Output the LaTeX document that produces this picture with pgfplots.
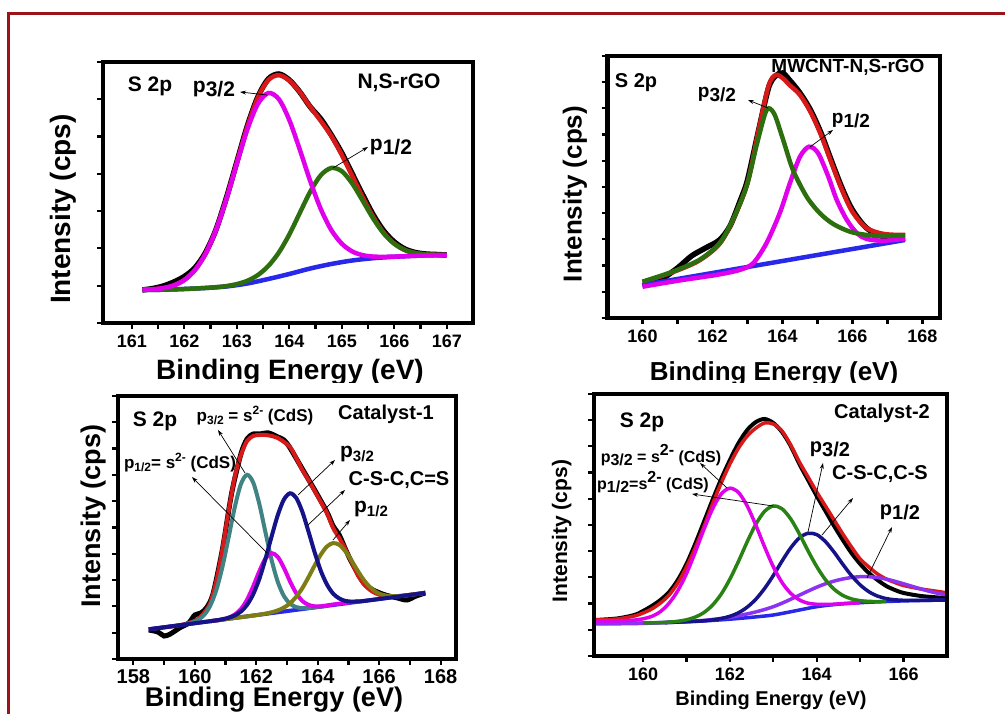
\documentclass[border=0pt]{standalone}
\usepackage{fontspec}
\setmainfont{Liberation Sans}
\usepackage{pgfplots}
\pgfplotsset{compat=1.18}
\usetikzlibrary{arrows.meta}
\definecolor{cred}{RGB}{215,25,25}
\definecolor{cblue}{RGB}{40,40,235}
\definecolor{cmag}{RGB}{225,0,235}
\definecolor{cgreen}{RGB}{45,110,15}
\definecolor{cteal}{RGB}{65,130,130}
\definecolor{cnavy}{RGB}{22,18,135}
\definecolor{colive}{RGB}{125,125,20}
\definecolor{cpurple}{RGB}{140,50,240}
\definecolor{cgreenb}{RGB}{40,130,20}
\definecolor{borderred}{RGB}{155,20,25}
\newcommand{\fs}[1]{\fontsize{#1}{#1}\selectfont}
\pgfplotsset{panel/.style={scale only axis, anchor=south west, axis on top,
  axis line style={line width=4.5pt}, tick align=outside, tick pos=left,
  major tick length=6pt, minor tick length=6pt, every tick/.style={black, line width=2.2pt},
  yticklabels={}, minor x tick num=1, minor y tick num=1,
  tick label style={font=\bfseries\fs{18}}, xticklabel style={yshift=-2pt},
  /pgf/number format/assume math mode=true,
  every axis plot/.append style={smooth, no marks}}}
\tikzset{arr/.style={black, line width=0.7pt, -{Stealth[length=6pt,width=4pt]}}}
\begin{document}
\begin{tikzpicture}[x=1pt,y=1pt]
\path[use as bounding box] (0,0) rectangle (1005,714);
% ---------------- Panel 1 ----------------
\begin{axis}[panel, at={(103pt,391pt)}, width=370pt, height=261pt,
  xmin=160.45, xmax=167.5, ymin=0, ymax=261, xtick={161,162,163,164,165,166,167},
  ytick={0,37.3,74.6,111.9,149.1,186.4,223.7,261}]
\addplot[black, line width=5.5pt] coordinates {(161.2,33) (161.4,34.5) (161.6,37) (161.8,41) (162.0,46.5) (162.2,55) (162.4,70) (162.6,93) (162.8,125) (163.0,161) (163.2,197) (163.4,226) (163.6,244) (163.8,249) (164.0,243) (164.2,231) (164.4,216) (164.6,204) (164.8,188) (165.0,170) (165.2,149) (165.4,128) (165.6,108) (165.8,92) (166.0,81) (166.2,74) (166.4,70.5) (166.6,69) (166.8,68.5) (167.0,68)};
\addplot[cred, line width=4.5pt] coordinates {(161.2,33.2) (161.4,33.7) (161.6,34.9) (161.8,37.6) (162.0,43.0) (162.2,52.8) (162.4,68.9) (162.6,92.7) (162.8,124.1) (163.0,160.4) (163.2,196.2) (163.4,225.3) (163.6,243.0) (163.8,247.8) (164.0,242.5) (164.2,231.0) (164.4,216) (164.6,202) (164.8,187) (165.0,168) (165.2,147) (165.4,125.5) (165.6,105.9) (165.8,90.1) (166.0,79.4) (166.2,73.0) (166.4,69.9) (166.6,68.6) (166.8,68.2) (167.0,68.1)};
\addplot[cblue, line width=4.5pt] coordinates {(161.2,33) (161.6,33.3) (162.0,34) (162.4,35) (162.8,36.5) (163.2,39.5) (163.6,44) (164.0,49) (164.4,54.5) (164.8,59) (165.2,62.5) (165.6,64.8) (166.0,66.2) (166.4,67.2) (166.8,67.8) (167.0,68)};
\addplot[cgreen, line width=4.5pt] coordinates {(161.2,33) (161.6,33.3) (162.0,34) (162.4,35) (162.6,35.8) (162.8,36.9) (163.0,38.9) (163.2,42.2) (163.4,47.9) (163.6,57.0) (163.8,70.4) (164.0,88.5) (164.2,110.1) (164.4,131.4) (164.6,147.8) (164.8,155) (165.0,151.8) (165.2,139.4) (165.4,122.1) (165.6,104.3) (165.8,89.5) (166.0,79.2) (166.2,73.0) (166.4,69.9) (166.6,68.6) (166.8,68.2) (167.0,68.1)};
\addplot[cmag, line width=4.5pt] coordinates {(161.2,33.2) (161.4,33.7) (161.6,34.9) (161.8,37.6) (162.0,43.0) (162.2,52.8) (162.4,68.9) (162.6,92.6) (162.8,123.7) (163.0,159.3) (163.2,193.5) (163.4,219.0) (163.6,230.0) (163.8,223.9) (164.0,203.0) (164.2,173.3) (164.4,141.7) (164.6,113.9) (164.8,92.9) (165.0,79.3) (165.2,71.5) (165.4,67.8) (165.6,66.4) (165.8,66.2) (166.0,66.4) (166.2,66.7) (166.4,67.2) (166.6,67.5) (166.8,67.8) (167.0,68)};
\end{axis}
% ---------------- Panel 2 ----------------
\begin{axis}[panel, at={(607.5pt,396pt)}, width=332.5pt, height=262pt,
  xmin=159, xmax=168.5, ymin=0, ymax=262, xtick={160,162,164,166,168},
  ytick={0,52.4,104.8,157.2,209.6,262}]
\addplot[black, line width=5.5pt] coordinates {(160.0,32) (160.5,38) (161.0,50) (161.4,62) (161.8,70) (162.2,78) (162.5,92) (162.8,118) (163.0,138) (163.3,185) (163.6,230) (163.8,242) (164.0,245) (164.2,238) (164.5,225) (164.8,208) (165.1,185) (165.4,157) (165.7,130) (166.0,108) (166.4,90) (166.9,81) (167.5,80)};
\addplot[cred, line width=4.5pt] coordinates {(160.0,36) (160.8,45) (161.6,57) (162.2,74) (162.6,99) (163.0,135) (163.3,185) (163.6,232) (163.8,243) (164.0,240) (164.2,233) (164.5,223) (164.8,206) (165.1,183) (165.4,155) (165.7,128) (166.0,106) (166.4,90) (166.9,84) (167.5,83)};
\addplot[cblue, line width=4.5pt] coordinates {(160,33) (163.75,55.5) (167.5,78)};
\addplot[cmag, line width=4.5pt] coordinates {(160.0,31.3) (161.14,38) (162.10,43) (162.77,48) (163.16,54.7) (163.54,74.7) (163.92,104.7) (164.21,134.7) (164.50,161.3) (164.76,171.3) (165.02,164.7) (165.31,141.3) (165.55,118) (165.84,98) (166.13,84.7) (166.41,79) (166.89,77.3) (167.51,79.3)};
\addplot[cgreen, line width=4.5pt] coordinates {(160.0,36.3) (160.86,46.3) (161.62,58) (162.20,74.7) (162.58,98) (162.97,131.3) (163.25,171.3) (163.49,203) (163.61,209.7) (163.78,203) (164.02,178) (164.30,148) (164.69,121.3) (165.07,104.7) (165.45,94) (165.93,86.3) (166.41,83) (166.89,82) (167.51,82.7)};
\end{axis}
% labels of top panels
\node[anchor=base, font=\bfseries\fs{28}] at (290,334.5) {Binding Energy (eV)};
\node[rotate=90, anchor=base, font=\bfseries\fs{28}] at (71,505) {Intensity (cps)};
\node[font=\bfseries\fs{21}] at (150,628) {S 2p};
\node[font=\bfseries\fs{21}] at (214,625) {p\raisebox{-4pt}{3/2}};
\node[font=\bfseries\fs{21}] at (391,567) {p\raisebox{-4pt}{1/2}};
\node[font=\bfseries\fs{21}] at (399,631) {N,S-rGO};
\draw[arr] (267,619) -- (240,622);
\draw[arr] (333,546) -- (368,567);
\node[anchor=base, font=\bfseries\fs{26}] at (774,333.5) {Binding Energy (eV)};
\node[rotate=90, anchor=base, font=\bfseries\fs{26}] at (581.5,520) {Intensity (cps)};
\node[font=\bfseries\fs{20}] at (636,631) {S 2p};
\node[font=\bfseries\fs{19}] at (848,647) {MWCNT-N,S-rGO};
\node[font=\bfseries\fs{19}] at (717,619) {p\raisebox{-4pt}{3/2}};
\node[font=\bfseries\fs{19}] at (851,593) {p\raisebox{-4pt}{1/2}};
\draw[arr] (768,606) -- (748,614);
\draw[arr] (810,567) -- (833,584);
% white cover (lower images overlap the labels)
\fill[white] (12,0) rectangle (1005,330.5);
% ---------------- Panel 3 ----------------
\begin{axis}[panel, at={(118pt,55pt)}, width=338pt, height=263pt,
  xmin=157.5, xmax=168.5, ymin=0, ymax=263, xtick={158,160,162,164,166,168},
  ytick={0,52.6,105.2,157.8,210.4,263}, tick label style={font=\bfseries\fs{20}}, xticklabel style={yshift=1pt}]
\addplot[black, line width=5pt] coordinates {(158.5,29) (158.8,27) (159.0,23) (159.2,25) (159.5,31) (159.8,36) (160.0,44) (160.2,46) (160.4,52) (160.6,66) (160.9,110) (161.2,166) (161.5,205) (161.7,220) (161.9,225) (162.1,225) (162.4,226) (162.7,222) (162.9,219) (163.1,211) (163.5,190) (163.9,169) (164.3,147) (164.5,133) (164.7,124) (164.9,110) (165.1,97) (165.5,76) (165.8,69) (166.2,64) (166.6,61) (166.9,59) (167.2,63) (167.5,66)};
\addplot[cred, line width=4pt] coordinates {(158.5,29.7) (159.5,33.7) (159.9,37) (160.1,40) (160.3,46) (160.5,56) (160.7,78) (160.9,110) (161.1,148) (161.3,182) (161.5,204) (161.7,218) (161.9,223) (162.1,224) (162.3,224) (162.5,223) (162.7,221) (162.9,217) (163.1,212) (163.3,201) (163.5,189) (163.7,179) (163.9,168) (164.1,157) (164.3,146) (164.5,131) (164.7,121) (164.9,110) (165.1,97) (165.3,84) (165.5,75) (165.7,69) (165.9,65.5) (166.1,63.5) (166.5,62.5) (167.5,66.1)};
\addplot[cblue, line width=4pt] coordinates {(158.5,29.7) (163,47.9) (167.5,66.1)};
\addplot[cteal, line width=4pt] coordinates {(159.7,34.8) (159.9,36.4) (160.1,39.0) (160.3,43.9) (160.5,53.2) (160.7,69.0) (160.9,92.4) (161.1,121.6) (161.3,151.7) (161.5,174.9) (161.7,184.2) (161.9,176.5) (162.1,154.9) (162.3,126.5) (162.5,98.9) (162.7,77.1) (162.9,62.9) (163.1,55.2) (163.3,51.9) (163.5,50.9) (163.7,51.0) (164.0,52.1) (164.3,53.1)};
\addplot[cmag, line width=4pt] coordinates {(160.5,37.8) (160.9,39.4) (161.1,41.4) (161.3,44.4) (161.5,49.9) (161.7,59.3) (161.9,72.6) (162.1,87.8) (162.3,100.5) (162.5,105.9) (162.7,102.1) (162.9,91.1) (163.1,77.5) (163.3,65.8) (163.5,58.0) (163.7,54.1) (163.9,52.7) (164.1,52.7) (164.5,54.5) (165.0,56.5) (165.3,57.6)};
\addplot[colive, line width=4pt] coordinates {(160.5,37.8) (161.5,41.8) (162.1,44.3) (162.3,45.4) (162.5,46.7) (162.7,48.6) (162.9,51.4) (163.1,55.7) (163.3,62.2) (163.5,70.9) (163.7,81.8) (163.9,93.5) (164.1,104.4) (164.3,112.5) (164.5,115.9) (164.7,114.2) (164.9,107.7) (165.1,98.4) (165.3,88.3) (165.5,79.0) (165.7,71.9) (165.9,67.0) (166.1,64.3) (166.3,63.1) (166.5,62.8) (166.7,63.1) (166.9,63.7) (167.5,66.1)};
\addplot[cnavy, line width=4pt] coordinates {(158.5,29.7) (159.5,33.7) (160.1,36.2) (160.7,38.6) (160.9,39.8) (161.1,41.2) (161.3,43.5) (161.5,47.5) (161.7,54.1) (161.9,64.8) (162.1,80.1) (162.3,100.2) (162.5,122.6) (162.7,143.9) (162.9,159.5) (163.1,165.7) (163.3,161.1) (163.5,147.1) (163.7,127.4) (163.9,106.6) (164.1,88.2) (164.3,74.5) (164.5,65.4) (164.7,60.5) (164.9,58.1) (165.1,57.4) (165.3,57.6) (165.5,58.0) (166.5,62.0) (167.5,66.1)};
\end{axis}
% ---------------- Panel 4 ----------------
\begin{axis}[panel, at={(594pt,58pt)}, width=353pt, height=262pt,
  xmin=158.87, xmax=167.0, ymin=0, ymax=262, xtick={160,162,164,166},
  ytick={0,52.4,104.8,157.2,209.6,262}]
\addplot[black, line width=4pt] coordinates {(158.9,36) (159.4,37.5) (159.8,41) (160.0,45) (160.2,50) (160.4,56) (160.6,64) (160.8,76) (161.0,92) (161.2,112) (161.4,134) (161.6,156) (161.8,177) (162.0,196) (162.2,213) (162.4,226) (162.6,234) (162.8,237) (163.0,233) (163.2,224) (163.4,210) (163.6,192) (163.8,176) (164.0,160) (164.2,145) (164.4,130) (164.6,116) (164.8,103) (165.0,92) (165.2,83) (165.4,76) (165.6,70) (165.8,66) (166.0,63) (166.4,60) (166.8,58.5) (167.0,58)};
\addplot[cred, line width=3.5pt] coordinates {(158.9,36) (159.4,37) (159.8,40) (160.0,43) (160.2,47) (160.4,53) (160.6,61) (160.8,73) (161.0,89) (161.2,108) (161.4,129) (161.6,152) (161.8,173) (162.0,192) (162.2,208) (162.4,220) (162.6,228) (162.8,233) (163.0,232) (163.2,225) (163.4,211) (163.6,194) (163.8,179) (164.0,164) (164.2,150) (164.4,136) (164.6,122) (164.8,109) (165.0,97) (165.2,89) (165.4,82) (165.6,77) (165.8,73.5) (166.0,70.5) (166.4,67) (166.8,64.5) (167.0,63)};
\addplot[cblue, line width=3.5pt] coordinates {(158.9,32.7) (159.5,32.8) (160.0,33.0) (160.5,33.4) (161.0,34.2) (161.5,35.3) (162.0,36.8) (162.5,38.7) (163.0,41.0) (163.5,45.1) (164.0,49.3) (164.5,51.8) (165.0,53.3) (165.5,54.3) (166.0,55.1) (166.5,55.6) (167.0,56.0)};
\addplot[cpurple, line width=3.5pt] coordinates {(158.9,32.0) (160.0,32.6) (161.0,34.5) (161.2,35.0) (161.4,35.6) (161.6,36.5) (161.8,37.5) (162.0,38.8) (162.2,40.3) (162.4,42.1) (162.6,44.1) (162.8,46.5) (163.0,49.3) (163.2,52.8) (163.4,56.7) (163.6,60.8) (163.8,64.9) (164.0,68.8) (164.2,72.2) (164.4,74.9) (164.6,77.0) (164.8,78.5) (165.0,79.3) (165.2,79.3) (165.4,78.4) (165.6,76.9) (165.8,74.7) (166.0,72.2) (166.2,69.6) (166.4,67.0) (166.6,64.6) (166.8,62.6) (167.0,60.9)};
\addplot[cnavy, line width=3.5pt] coordinates {(160.5,33.4) (161.2,34.7) (161.4,35.2) (161.6,36.1) (161.8,37.5) (162.0,39.7) (162.2,43.3) (162.4,48.9) (162.6,56.9) (162.8,67.6) (163.0,80.5) (163.2,94.9) (163.4,108.1) (163.6,118.1) (163.8,122.7) (164.0,121.4) (164.2,114.4) (164.4,103.8) (164.6,91.7) (164.8,80.4) (165.0,71.1) (165.2,64.3) (165.4,59.9) (165.6,57.4) (165.8,56.2) (166.0,55.7) (166.2,55.5) (166.4,55.6) (167.0,56)};
\addplot[cgreenb, line width=3.5pt] coordinates {(160.0,33.0) (160.4,33.4) (160.6,33.8) (160.8,34.7) (161.0,36.2) (161.2,38.9) (161.4,43.4) (161.6,50.9) (161.8,61.9) (162.0,76.9) (162.2,94.9) (162.4,114.4) (162.6,132.0) (162.8,144.7) (163.0,150) (163.2,147.2) (163.4,137.1) (163.6,122.1) (163.8,105.1) (164.0,89.4) (164.2,76.3) (164.4,66.8) (164.6,60.6) (164.8,57.1) (165.0,55.3) (165.2,54.6) (165.4,54.4) (165.6,54.6)};
\addplot[cmag, line width=3.5pt] coordinates {(158.9,35) (159.4,35.2) (159.8,35.9) (160.0,37.2) (160.2,39.6) (160.4,44.4) (160.6,52.8) (160.8,65.3) (161.0,82.4) (161.2,103.6) (161.4,126.4) (161.6,147.1) (161.8,162.0) (162.0,167.8) (162.2,163.4) (162.4,149.9) (162.6,130.5) (162.8,109.0) (163.0,89.2) (163.2,73.5) (163.4,62.7) (163.6,56.1) (163.8,52.8) (164.0,51.7) (164.2,51.5) (164.4,51.8) (164.6,52.4) (165.0,53.3)};
\end{axis}
% labels of bottom panels
\node[anchor=base, font=\bfseries\fs{27}] at (274,7) {Binding Energy (eV)};
\node[rotate=90, anchor=base, font=\bfseries\fs{27}] at (100.5,198) {Intensity (cps)};
\node[font=\bfseries\fs{21}] at (155,293) {S 2p};
\node[font=\bfseries\fs{20}] at (386,300) {Catalyst-1};
\node[font=\bfseries\fs{17}] at (255,298) {p\raisebox{-3pt}{\fs{12}3/2} = s\raisebox{7pt}{\fs{12}2-} (CdS)};
\node[font=\bfseries\fs{17}] at (180,251) {p\raisebox{-3pt}{\fs{12}1/2}= s\raisebox{7pt}{\fs{12}2-} (CdS)};
\node[font=\bfseries\fs{21}] at (357,260) {p\raisebox{-4pt}{\fs{15}3/2}};
\node[font=\bfseries\fs{20}] at (399,234) {C-S-C,C=S};
\node[font=\bfseries\fs{21}] at (371,205) {p\raisebox{-4pt}{\fs{15}1/2}};
\draw[arr] (245,241) -- (218,284);
\draw[arr] (267,161) -- (192,237);
\draw[arr] (298,219) -- (335,254);
\draw[arr] (308,189) -- (345,224);
\draw[arr] (333,174) -- (350,194);
\node[anchor=base, font=\bfseries\fs{20}] at (771,8) {Binding Energy (eV)};
\node[rotate=90, anchor=base, font=\bfseries\fs{21}] at (567,183) {Intensity (cps)};
\node[font=\bfseries\fs{21}] at (642,292) {S 2p};
\node[font=\bfseries\fs{20}] at (882,301) {Catalyst-2};
\node[font=\bfseries\fs{16}] at (661,259) {p\raisebox{-3pt}{3/2} = s\raisebox{7pt}{2-} (CdS)};
\node[font=\bfseries\fs{16}] at (653,232) {p\raisebox{-3pt}{1/2}=s\raisebox{7pt}{2-} (CdS)};
\node[font=\bfseries\fs{20}] at (830,265) {p\raisebox{-4pt}{3/2}};
\node[font=\bfseries\fs{20}] at (880,240) {C-S-C,C-S};
\node[font=\bfseries\fs{20}] at (900,202) {p\raisebox{-4pt}{1/2}};
\draw[arr] (727,226) -- (700,251);
\draw[arr] (773,208) -- (692,220);
\draw[arr] (808,182) -- (823,251);
\draw[arr] (822,179) -- (853,216);
\draw[arr] (867,136) -- (892,187);
% border
\draw[borderred, line width=3pt] (8,-3) -- (8,700.7) -- (1010,700.7);
\end{tikzpicture}
\end{document}
